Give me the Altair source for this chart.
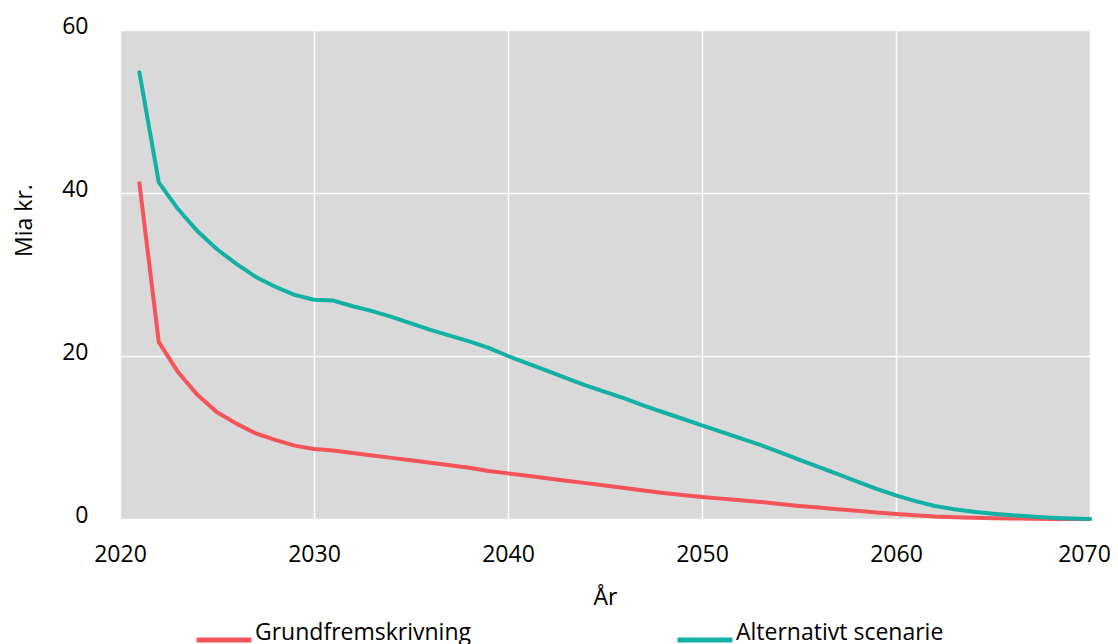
import altair as alt
import pandas as pd

years = list(range(2021, 2071))
grund = [41.2, 21.7, 18.0, 15.2, 13.1, 11.7, 10.5, 9.7, 9.0, 8.6,
         8.4, 8.1, 7.8, 7.5, 7.2, 6.9, 6.6, 6.3, 5.9, 5.6,
         5.3, 5.0, 4.7, 4.4, 4.1, 3.8, 3.5, 3.2, 2.95, 2.7,
         2.5, 2.3, 2.1, 1.85, 1.6, 1.4, 1.2, 1.0, 0.8, 0.6,
         0.45, 0.3, 0.22, 0.15, 0.1, 0.06, 0.03, 0.01, 0.0, 0.0]
alt_scen = [54.8, 41.3, 38.0, 35.3, 33.1, 31.3, 29.7, 28.5, 27.5, 26.9,
            26.8, 26.1, 25.5, 24.8, 24.0, 23.2, 22.5, 21.8, 21.0, 20.0,
            19.1, 18.2, 17.3, 16.4, 15.6, 14.8, 13.9, 13.1, 12.3, 11.5,
            10.7, 9.9, 9.1, 8.2, 7.3, 6.4, 5.5, 4.6, 3.7, 2.9,
            2.2, 1.6, 1.2, 0.9, 0.65, 0.45, 0.3, 0.15, 0.05, 0.0]
series = ["Grundfremskrivning", "Alternativt scenarie"]
colors = ["#F55459", "#13B0A5"]

df = pd.concat([
    pd.DataFrame({"År": years, "Værdi": grund, "Serie": series[0]}),
    pd.DataFrame({"År": years, "Værdi": alt_scen, "Serie": series[1]}),
])

FONT = "Open Sans"

chart = alt.Chart(df).mark_line(strokeWidth=4, strokeCap="round", strokeJoin="round").encode(
    x=alt.X("År:Q", scale=alt.Scale(domain=[2020, 2070], nice=False, zero=False),
            axis=alt.Axis(values=[2020, 2030, 2040, 2050, 2060, 2070], format="d",
                          labelFlush=False, labelPadding=24,
                          labelOffset=alt.expr("datum.value == 2070 ? -6 : 0"),
                          title="År", titlePadding=20)),
    y=alt.Y("Værdi:Q", scale=alt.Scale(domain=[0, 60], nice=False),
            axis=alt.Axis(values=[0, 20, 40, 60], title="Mia kr.",
                          titleX=-96, titleY=190, titleBaseline="middle",
                          titleAlign="center", labelOffset=-4, labelPadding=32)),
    color=alt.Color("Serie:N", scale=alt.Scale(domain=series, range=colors), sort=series,
                    legend=alt.Legend(title=None, orient="none", direction="horizontal",
                                      legendX=74, legendY=580, symbolType="stroke",
                                      symbolSize=3025, symbolStrokeWidth=5,
                                      columnPadding=196, labelOffset=1,
                                      labelBaseline="alphabetic")),
).properties(
    width=970, height=489,
    autosize=alt.AutoSizeParams(type="none"),
    padding={"left": 112, "top": 22, "right": 20, "bottom": 140},
).configure_view(
    fill="#D9D9D9", stroke=None
).configure_axis(
    grid=True, gridColor="#FFFFFF", gridWidth=1.5, domain=False, ticks=False, tickSize=0,
    labelFont=FONT, labelFontSize=23, labelColor="#000000",
    titleFont=FONT, titleFontSize=23, titleColor="#000000", titleFontWeight="normal",
).configure_legend(
    labelFont=FONT, labelFontSize=23, labelColor="#000000", labelLimit=400,
)

chart.save("out.html", embed_options={"renderer": "svg", "actions": False})
